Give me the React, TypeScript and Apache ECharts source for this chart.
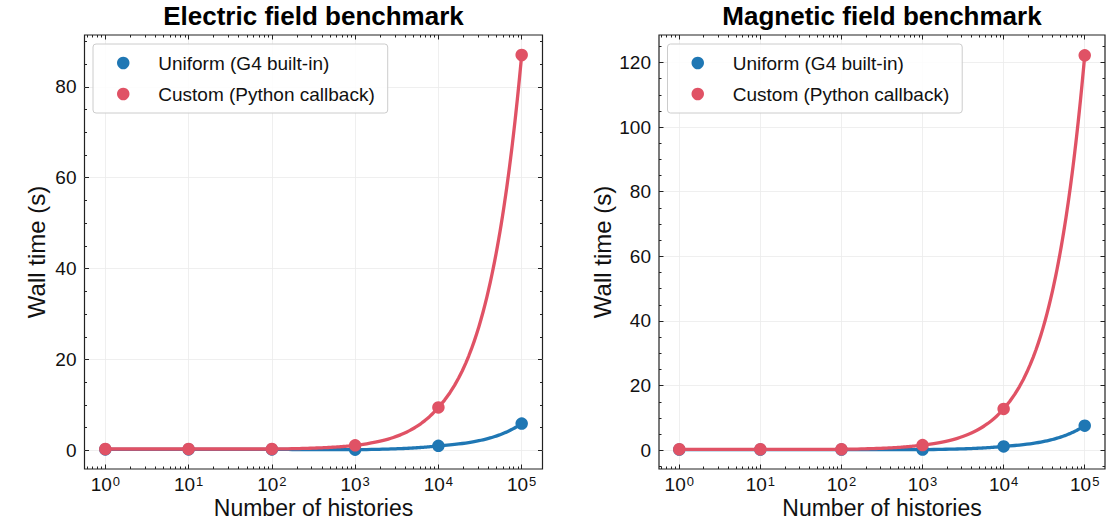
import React, { useEffect, useRef } from 'react';
import * as echarts from 'echarts';

// ---- data ----
const histories = [1, 10, 100, 1000, 10000, 100000];
const electricUniform = [0.2, 0.2, 0.2, 0.15, 1.0, 5.9];
const electricCustom = [0.3, 0.3, 0.3, 1.1, 9.45, 87.0];
const magneticUniform = [0.2, 0.2, 0.2, 0.2, 1.2, 7.6];
const magneticCustom = [0.3, 0.3, 0.3, 1.6, 12.8, 122.2];
const seriesNames = ['Uniform (G4 built-in)', 'Custom (Python callback)'];
const panelTitles = ['Electric field benchmark', 'Magnetic field benchmark'];
const xMajorTicks = [1, 10, 100, 1000, 10000, 100000];
const electricYTicks = [0, 20, 40, 60, 80];
const magneticYTicks = [0, 20, 40, 60, 80, 100, 120];
const xAxisTitle = 'Number of histories';
const yAxisTitle = 'Wall time (s)';

// ---- styling / layout ----
const FONT = "'Liberation Sans', Arial, sans-serif";
const BLUE = '#1f77b4';
const RED = '#e05265';
const INK = '#111111';
const GRIDLINE = '#ebebeb';
const X_MIN = Math.pow(10, -0.25);
const X_MAX = Math.pow(10, 5.25);
const PANELS = [
  { left: 84.5, width: 458, yMin: -4.1, yMax: 91.4, yTicks: electricYTicks, nameGap: 36, uniform: electricUniform, custom: electricCustom },
  { left: 659, width: 446, yMin: -5.8, yMax: 128.5, yTicks: magneticYTicks, nameGap: 45, uniform: magneticUniform, custom: magneticCustom },
];
const TOP = 35;
const HEIGHT = 434;

function xMinorTicks(): number[] {
  const out: number[] = [];
  for (let d = -1; d <= 5; d++) {
    for (let m = 2; m <= 9; m++) {
      const v = m * Math.pow(10, d);
      if (v > X_MIN && v < X_MAX) out.push(v);
    }
  }
  return out;
}

function yMinorTicks(min: number, max: number, major: number[]): number[] {
  const out: number[] = [];
  const start = Math.ceil(min / 5) * 5;
  for (let v = start; v <= max; v += 5) {
    if (major.indexOf(v) < 0) out.push(v);
  }
  return out;
}

const tickLine = { color: '#222', width: 1 };

function buildOption() {
  const grids: any[] = [];
  const xAxes: any[] = [];
  const yAxes: any[] = [];
  const series: any[] = [];
  const titles: any[] = [];
  const legends: any[] = [];
  const minorX = xMinorTicks();

  PANELS.forEach((p, gi) => {
    grids.push({
      left: p.left, top: TOP, width: p.width, height: HEIGHT,
      show: true, borderColor: '#222', borderWidth: 1.2, backgroundColor: 'transparent',
      containLabel: false, outerBoundsMode: 'none',
    });
    const baseX = {
      type: 'log', logBase: 10, gridIndex: gi, min: X_MIN, max: X_MAX,
      axisLine: { show: false, onZero: false },
      minorTick: { show: false }, splitLine: { show: false },
      axisLabel: { show: false },
    };
    xAxes.push({
      ...baseX, position: 'bottom',
      axisTick: { show: true, inside: true, length: 4.5, customValues: xMajorTicks, lineStyle: tickLine },
      splitLine: { show: true, lineStyle: { color: GRIDLINE, width: 0.8 } },
      axisLabel: {
        show: true, customValues: xMajorTicks, margin: 6,
        formatter: (v: number) => {
          const e = Math.log10(v);
          if (Math.abs(e - Math.round(e)) > 1e-6) return '';
          return '{b|10}{s|' + Math.round(e) + '}';
        },
        rich: {
          b: { fontSize: 19, lineHeight: 19, fontFamily: FONT, color: INK },
          s: { fontSize: 13, lineHeight: 13, fontFamily: FONT, color: INK, verticalAlign: 'top', padding: [0, 0, 0, 1] },
        },
      },
      name: xAxisTitle, nameLocation: 'middle', nameGap: 27, nameMoveOverlap: false,
      nameTextStyle: { fontSize: 23, lineHeight: 23, fontFamily: FONT, color: INK, verticalAlign: 'top' },
    });
    xAxes.push({ ...baseX, position: 'bottom', axisTick: { show: true, inside: true, length: 2.5, customValues: minorX, lineStyle: tickLine } });
    xAxes.push({ ...baseX, position: 'top', axisTick: { show: true, inside: true, length: 4.5, customValues: xMajorTicks, lineStyle: tickLine } });
    xAxes.push({ ...baseX, position: 'top', axisTick: { show: true, inside: true, length: 2.5, customValues: minorX, lineStyle: tickLine } });

    const minorY = yMinorTicks(p.yMin, p.yMax, p.yTicks);
    const baseY = {
      type: 'value', gridIndex: gi, min: p.yMin, max: p.yMax,
      axisLine: { show: false, onZero: false },
      minorTick: { show: false }, splitLine: { show: false },
      axisLabel: { show: false },
    };
    yAxes.push({
      ...baseY, position: 'left', splitNumber: 5,
      axisTick: { show: true, inside: true, length: 4.5, customValues: p.yTicks, lineStyle: tickLine },
      splitLine: { show: true, lineStyle: { color: GRIDLINE, width: 0.8 } },
      axisLabel: {
        show: true, customValues: p.yTicks, margin: 8, fontSize: 19, fontFamily: FONT, color: INK,
        formatter: (v: number) => (p.yTicks.indexOf(v) >= 0 ? String(v) : ''),
      },
      name: yAxisTitle, nameLocation: 'middle', nameGap: p.nameGap, nameMoveOverlap: false,
      nameTextStyle: { fontSize: 24, fontFamily: FONT, color: INK },
    });
    yAxes.push({ ...baseY, position: 'left', axisTick: { show: true, inside: true, length: 2.5, customValues: minorY, lineStyle: tickLine } });
    yAxes.push({ ...baseY, position: 'right', axisTick: { show: true, inside: true, length: 4.5, customValues: p.yTicks, lineStyle: tickLine } });
    yAxes.push({ ...baseY, position: 'right', axisTick: { show: true, inside: true, length: 2.5, customValues: minorY, lineStyle: tickLine } });

    const xi = gi * 4;
    const yi = gi * 4;
    const sets = [
      { name: seriesNames[0], values: p.uniform, color: BLUE },
      { name: seriesNames[1], values: p.custom, color: RED },
    ];
    sets.forEach((s, si) => {
      const pts = histories.map((h, i) => [h, s.values[i]]);
      series.push({
        type: 'custom', name: 'line-' + gi + '-' + si, xAxisIndex: xi, yAxisIndex: yi,
        data: pts, encode: { x: 0, y: 1 }, silent: true, z: 2 + si * 2,
        renderItem: (params: any, api: any) => {
          const i = params.dataIndex;
          if (i >= pts.length - 1) return { type: 'group', children: [] };
          const [x0, y0] = pts[i];
          const [x1, y1] = pts[i + 1];
          const N = 48;
          const points: number[][] = [];
          // straight segment in data space, projected through the log axis
          for (let k = 0; k <= N; k++) {
            const t = k / N;
            points.push(api.coord([x0 + (x1 - x0) * t, y0 + (y1 - y0) * t]));
          }
          return {
            type: 'polyline', shape: { points },
            style: { stroke: s.color, lineWidth: 3.3, fill: 'none', lineJoin: 'round', lineCap: 'round' },
          };
        },
      });
      series.push({
        type: 'scatter', name: s.name, xAxisIndex: xi, yAxisIndex: yi,
        data: pts, symbol: 'circle', symbolSize: 12.5, z: 3 + si * 2,
        itemStyle: { color: s.color, opacity: 1 }, silent: true,
      });
    });

    titles.push({
      text: panelTitles[gi], left: p.left + p.width / 2, top: 3, textAlign: 'center', padding: 0,
      textStyle: { fontSize: 26, fontWeight: 'bold', fontFamily: FONT, color: '#000' },
    });
    legends.push({
      orient: 'vertical', left: p.left + 8.5, top: 44, data: seriesNames,
      icon: 'circle', itemWidth: 60, itemHeight: 12.5, itemGap: 11,
      padding: [9, 13, 9, 24], selectedMode: false, z: 10,
      textStyle: { fontSize: 19, lineHeight: 20, fontFamily: FONT, color: INK },
      backgroundColor: 'rgba(255,255,255,0.85)', borderColor: '#cccccc', borderWidth: 1, borderRadius: 3,
    });
  });

  return {
    animation: false,
    backgroundColor: '#ffffff',
    title: titles,
    legend: legends,
    grid: grids,
    xAxis: xAxes,
    yAxis: yAxes,
    series,
  };
}

export default function App() {
  const ref = useRef<HTMLDivElement>(null);
  useEffect(() => {
    if (!ref.current) return;
    const chart = echarts.init(ref.current, undefined, { renderer: 'svg' });
    chart.setOption(buildOption() as any);
    return () => chart.dispose();
  }, []);
  return <div ref={ref} style={{ position: 'fixed', left: 0, top: 0, width: 1109, height: 522 }} />;
}
